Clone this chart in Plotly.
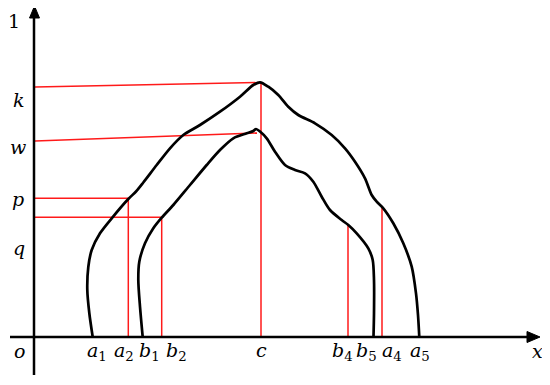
import plotly.graph_objects as go

# curve outlines (x in px-like units, y in px-like units, y grows downward)
outer_x = [92.7, 89.3, 87.3, 88.3, 91.7, 100, 111.7, 128.3, 136, 143.3, 156.7, 170, 183.3, 200, 220, 240,
           253.3, 260, 268.3, 278.3, 288.3, 298.3, 315, 331.7, 345, 355, 365, 371.7, 376.7, 383.3,
           393.3, 403.3, 411.7, 416, 418, 419.3]
outer_y = [337, 313, 290, 267, 250, 233.3, 218.3, 199, 191.5, 182.5, 165, 148.3, 135, 125, 111.7, 96.7,
           85, 82.3, 86.7, 95, 106.7, 115, 123.3, 135, 148.3, 161.7, 178.3, 195, 201.7, 208.3,
           223.3, 243.3, 266.7, 293.3, 315, 337]

inner_x = [142.7, 140, 138.3, 139.3, 145, 153.3, 161.7, 173.3, 190, 206.7, 220, 233.3, 246.7, 253.3, 256,
           260, 266.7, 275, 285, 295, 305, 313.3, 321.7, 330, 341.7, 348.3, 356.7, 368.3, 372.7,
           374, 374, 373.5]
inner_y = [337, 306.7, 280, 261.7, 243.3, 228.3, 217.7, 205, 185, 165, 150, 138.3, 133.3, 131, 129,
           131.5, 138.3, 151.7, 165, 170, 173.3, 181.7, 196.7, 210, 220, 225, 233.3, 248.3, 260,
           280, 313.3, 337]

# red guide lines (segments separated by None)
guide_x = [35, 261, None, 35, 257, None, 35, 128.3, None, 35, 161.7, None,
           128.3, 128.3, None, 161.7, 161.7, None, 261, 261, None, 348, 348, None, 382, 382]
guide_y = [87, 82.5, None, 141, 133, None, 198.3, 198.3, None, 217.3, 217.3, None,
           198.3, 337, None, 217.3, 337, None, 82.5, 337, None, 224, 337, None, 208, 337]

# axes
axis_x = [34, 34, None, 10, 528]
axis_y = [375, 17, None, 337, 337]
arrow_x = [29.5, 34.5, 39.5, 29.5, None, 527, 540, 527, 527]
arrow_y = [18, 6, 18, 18, None, 331.5, 337, 342.5, 331.5]

# labels
left_labels = ["1", "<i>k</i>", "<i>w</i>", "<i>p</i>", "<i>q</i>", "<i>o</i>"]
left_x = [14, 19, 18, 18, 19, 19]
left_y = [21, 100, 147, 199, 248, 351]

bottom_labels = ["<i>a</i><sub>1</sub>", "<i>a</i><sub>2</sub>", "<i>b</i><sub>1</sub>", "<i>b</i><sub>2</sub>",
                 "<i>c</i>", "<i>b</i><sub>4</sub>", "<i>b</i><sub>5</sub>", "<i>a</i><sub>4</sub>",
                 "<i>a</i><sub>5</sub>", "<i>x</i>"]
bottom_x = [97, 124, 149, 176, 261, 342, 366, 392, 420, 537]
bottom_y = [351, 351, 351, 351, 350, 351, 351, 351, 351, 351]

FONT = "DejaVu Serif"
PAGE_OFFSET = 8  # default body margin of the html page

fig = go.Figure()

fig.add_trace(go.Scatter(x=guide_x, y=guide_y, mode="lines",
                         line=dict(color="#FF1A1A", width=1.5), hoverinfo="skip"))
fig.add_trace(go.Scatter(x=axis_x, y=axis_y, mode="lines",
                         line=dict(color="black", width=2.5), hoverinfo="skip"))
fig.add_trace(go.Scatter(x=arrow_x, y=arrow_y, mode="lines", fill="toself", fillcolor="black",
                         line=dict(color="black", width=1), hoverinfo="skip"))
for cx, cy in [(outer_x, outer_y), (inner_x, inner_y)]:
    fig.add_trace(go.Scatter(x=cx, y=cy, mode="lines",
                             line=dict(color="black", width=2.7, shape="spline", smoothing=0.8),
                             hoverinfo="skip"))

for txt, tx, ty in zip(left_labels + bottom_labels, left_x + bottom_x, left_y + bottom_y):
    fig.add_annotation(x=tx, y=ty, text=txt, showarrow=False,
                       font=dict(family=FONT, size=19, color="black"),
                       xanchor="center", yanchor="middle")

fig.update_layout(
    width=550 - PAGE_OFFSET, height=385 - PAGE_OFFSET,
    margin=dict(l=0, r=0, t=0, b=0),
    plot_bgcolor="white", paper_bgcolor="white",
    showlegend=False,
    xaxis=dict(range=[PAGE_OFFSET, 550], visible=False, fixedrange=True),
    yaxis=dict(range=[385, PAGE_OFFSET], visible=False, fixedrange=True),
)

fig.write_html("out.html")
